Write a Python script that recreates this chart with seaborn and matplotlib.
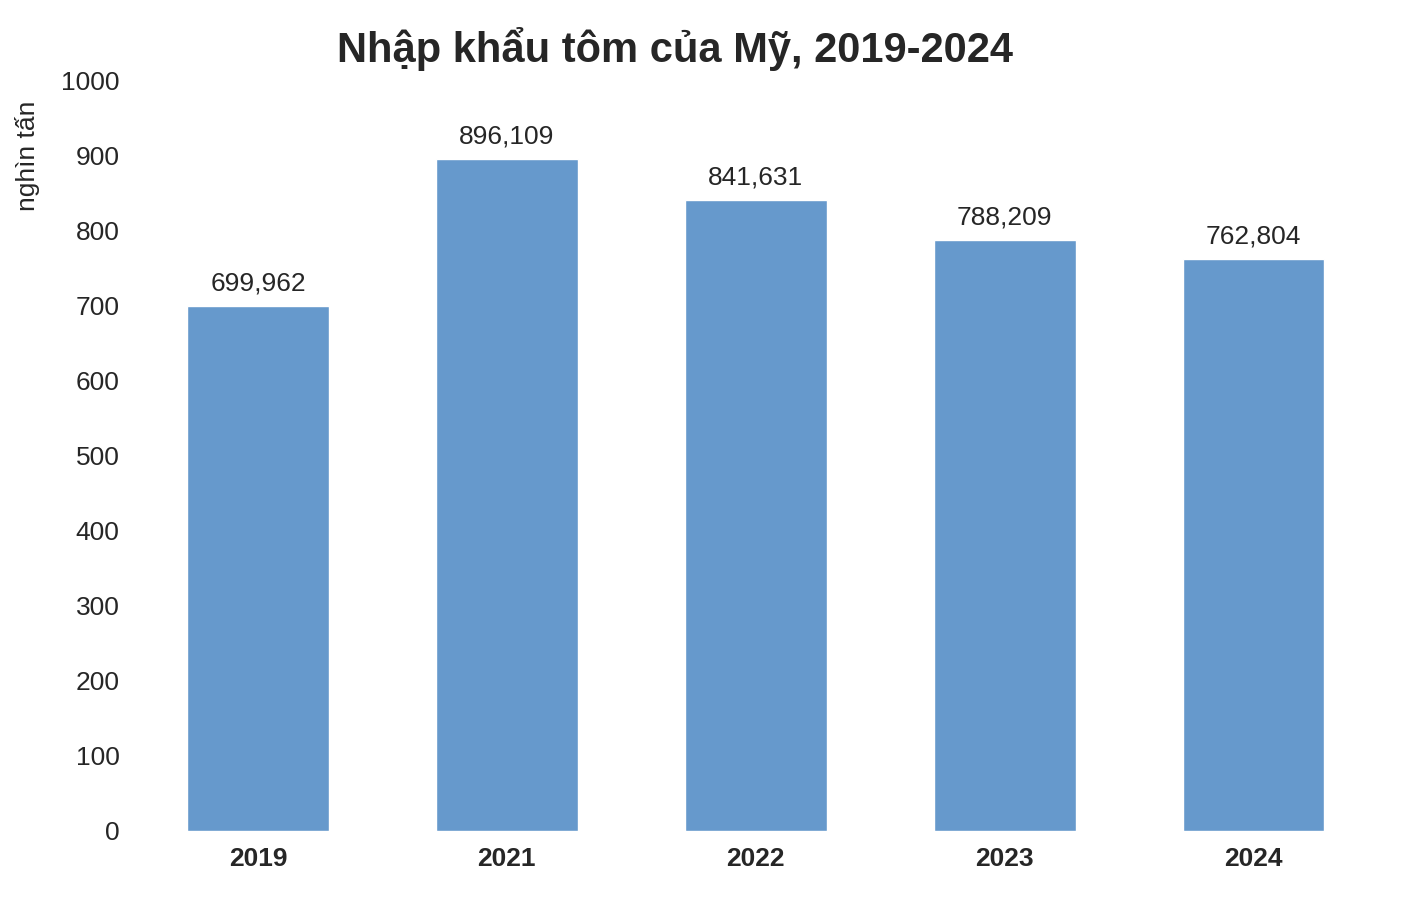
import matplotlib.pyplot as plt
import seaborn as sns
import pandas as pd

years = ['2019', '2021', '2022', '2023', '2024']
values = [699.962, 896.109, 841.631, 788.209, 762.804]
labels = ['699,962', '896,109', '841,631', '788,209', '762,804']

sns.set_style('white')
plt.rcParams['font.family'] = ['Liberation Sans', 'DejaVu Sans']

df = pd.DataFrame({'year': years, 'value': values})
fig, ax = plt.subplots(figsize=(14.06, 8.98), dpi=100)
sns.barplot(data=df, x='year', y='value', color='#6699cc', saturation=1, width=0.57, ax=ax)

for i, (v, t) in enumerate(zip(values, labels)):
    ax.text(i, v + 14, t, ha='center', va='bottom', fontsize=19)

ax.set_ylim(0, 1000)
ax.set_yticks(range(0, 1001, 100))
ax.tick_params(axis='y', labelsize=19, length=0, pad=10)
ax.tick_params(axis='x', labelsize=19, length=0, pad=12)
for lbl in ax.get_xticklabels():
    lbl.set_fontweight('bold')
ax.set_xlabel('')
ax.set_ylabel('nghìn tấn', fontsize=19, labelpad=10)
ax.yaxis.set_label_coords(-0.075, 0.9)
sns.despine(left=True, bottom=True)
fig.suptitle('Nhập khẩu tôm của Mỹ, 2019-2024', fontsize=30, fontweight='bold', x=0.48, y=0.97)
plt.subplots_adjust(left=0.095, right=0.98, top=0.91, bottom=0.075)
plt.savefig('out.png')
